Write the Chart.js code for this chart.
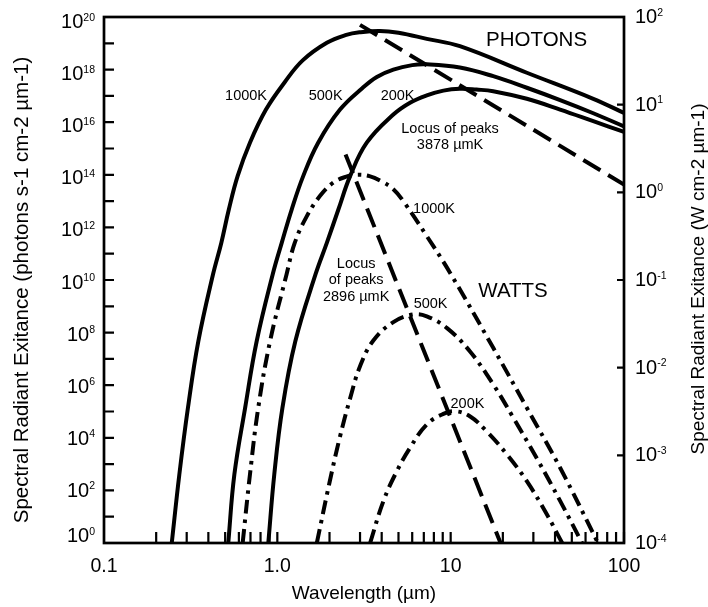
<!DOCTYPE html>
<html>
<head>
<meta charset="utf-8">
<script src="https://cdn.jsdelivr.net/npm/chart.js@4"></script>
<style>
  html, body { margin: 0; padding: 0; background: #fff; }
  canvas { display: block; }
</style>
</head>
<body>
<canvas id="chart" width="708" height="607"></canvas>
<script>
// [wavelength in µm, log10 of exitance read on the left axis]
const photons1000 = [[0.246, 0], [0.272, 2.6], [0.305, 5.14], [0.35, 7.67], [0.425, 10.2], [0.475, 11.41], [0.525, 12.68], [0.59, 13.95], [0.695, 15.22], [0.86, 16.48], [1.1, 17.51], [1.4, 18.35], [1.93, 19.02], [2.5, 19.32], [3.0, 19.42], [3.9, 19.47], [5.0, 19.4], [7.28, 19.17], [11.3, 18.89], [27.5, 17.88], [66.5, 16.89], [100, 16.35]];
const photons500 = [[0.521, 0], [0.565, 2.6], [0.652, 5.14], [0.76, 7.67], [0.94, 10.21], [1.06, 11.41], [1.21, 12.68], [1.41, 13.95], [1.72, 15.22], [2.3, 16.48], [3.1, 17.3], [3.75, 17.72], [4.67, 18.0], [6.0, 18.17], [7.28, 18.2], [11.3, 18.08], [17.6, 17.75], [27.5, 17.31], [42.8, 16.84], [66.5, 16.34], [100, 15.84]];
const photons200 = [[0.887, 0], [0.96, 2.6], [1.07, 5.14], [1.27, 7.67], [1.66, 10.21], [1.93, 11.41], [2.25, 12.68], [2.63, 13.95], [3.28, 15.22], [4.67, 16.29], [5.83, 16.74], [7.28, 17.02], [9.08, 17.2], [11.3, 17.27], [14.1, 17.24], [17.6, 17.18], [27.5, 16.89], [42.8, 16.48], [66.5, 16.04], [100, 15.63]];
const photonPeaks = [[3.0, 19.7], [100, 13.63]];

const watts1000 = [[0.631, 0], [0.695, 2.6], [0.776, 5.14], [0.908, 7.67], [1.13, 10.21], [1.26, 11.41], [1.48, 12.43], [1.76, 13.19], [2.1, 13.7], [2.5, 13.93], [2.85, 14.0], [3.4, 13.95], [4.0, 13.75], [4.67, 13.45], [5.33, 13.0], [7.28, 11.67], [9.93, 10.27], [17.6, 7.42], [27.5, 5.14], [42.8, 2.86], [70.8, 0]];
const watts500 = [[1.69, 0], [2.0, 2.3], [2.29, 4.0], [2.63, 5.5], [3.0, 6.72], [3.58, 7.7], [4.67, 8.4], [6.1, 8.69], [7.28, 8.62], [9.49, 8.18], [12.9, 7.29], [17.6, 6.03], [23, 4.76], [31.4, 3.22], [42.8, 1.6], [57.3, 0]];
const watts200 = [[3.43, 0], [4.09, 1.59], [4.89, 2.73], [5.83, 3.62], [7.28, 4.51], [9.08, 4.91], [10.6, 5.01], [12.9, 4.82], [16.1, 4.25], [21.1, 3.37], [27.5, 2.35], [35.8, 1.1], [44, 0]];
const wattPeaks = [[2.475, 14.77], [19.4, 0]];

const xTickValues = [0.1, 1, 10, 100];
const xTickLabels = ['0.1', '1.0', '10', '100'];
const leftTickExps = [0, 2, 4, 6, 8, 10, 12, 14, 16, 18, 20];
const rightTickExps = [-4, -3, -2, -1, 0, 1, 2];

// [text, wavelength, log10 exitance of the baseline, font size]
const notes = [
  ['PHOTONS', 31.3, 18.89, 20.5],
  ['WATTS', 22.9, 9.37, 20.5],
  ['1000K', 0.66, 16.86, 14.5],
  ['500K', 1.9, 16.86, 14.5],
  ['200K', 4.94, 16.86, 14.5],
  ['Locus of peaks', 9.92, 15.6, 14.5],
  ['3878 µmK', 9.92, 15.0, 14.5],
  ['1000K', 8.02, 12.55, 14.5],
  ['Locus', 2.85, 10.47, 14.5],
  ['of peaks', 2.85, 9.83, 14.5],
  ['2896 µmK', 2.85, 9.2, 14.5],
  ['500K', 7.66, 8.95, 14.5],
  ['200K', 12.5, 5.15, 14.5]
];

const FONT = '"Liberation Sans", Arial, Helvetica, sans-serif';
const SOLID = [];
const DASHED = [20, 9];
const DASH_DOT = [14, 6, 3.5, 6];

function serie(pontos, dash) {
  return {
    data: pontos.map(([l, e]) => ({ x: l, y: Math.pow(10, e) })),
    borderColor: '#000',
    borderWidth: 4,
    borderDash: dash,
    borderJoinStyle: 'round',
    tension: 0.4,
    pointRadius: 0,
    fill: false
  };
}

function potencia(ctx, exp, x, base, alinhar) {
  ctx.font = '20px ' + FONT;
  const wb = ctx.measureText('10').width;
  ctx.font = '10.5px ' + FONT;
  const ws = ctx.measureText(String(exp)).width;
  const left = alinhar === 'right' ? x - wb - ws : x;
  ctx.textAlign = 'left';
  ctx.textBaseline = 'alphabetic';
  ctx.font = '20px ' + FONT;
  ctx.fillText('10', left, base);
  ctx.font = '10.5px ' + FONT;
  ctx.fillText(String(exp), left + wb, base - 7.5);
}

const moldura = {
  id: 'moldura',
  afterDatasetsDraw(chart) {
    const { ctx, chartArea: a, scales } = chart;
    const x = scales.x, y = scales.y, y2 = scales.y2;
    ctx.save();
    ctx.fillStyle = '#000';
    ctx.strokeStyle = '#000';
    ctx.setLineDash([]);

    // inward ticks
    ctx.lineWidth = 2.2;
    ctx.beginPath();
    [0.1, 1, 10].forEach(d => {
      for (let m = 2; m <= 10; m++) {
        const px = x.getPixelForValue(m * d);
        ctx.moveTo(px, a.bottom);
        ctx.lineTo(px, a.bottom - 11);
      }
    });
    for (let e = 1; e < 20; e++) {
      const py = y.getPixelForValue(Math.pow(10, e));
      ctx.moveTo(a.left, py);
      ctx.lineTo(a.left + 10, py);
    }
    for (let e = -3; e < 2; e++) {
      const py = y2.getPixelForValue(Math.pow(10, e));
      ctx.moveTo(a.right, py);
      ctx.lineTo(a.right - 7, py);
    }
    ctx.stroke();

    ctx.lineWidth = 2.7;
    ctx.strokeRect(a.left, a.top, a.right - a.left, a.bottom - a.top);

    // tick labels
    ctx.font = '19.5px ' + FONT;
    ctx.textAlign = 'center';
    ctx.textBaseline = 'alphabetic';
    xTickValues.forEach((v, i) => {
      ctx.fillText(xTickLabels[i], x.getPixelForValue(v), a.bottom + 29);
    });
    leftTickExps.forEach(e => {
      const py = y.getPixelForValue(Math.pow(10, e));
      potencia(ctx, e, a.left - 9, py + (e === 0 ? -1 : 6 + e / 4), 'right');
    });
    rightTickExps.forEach(e => {
      const py = y2.getPixelForValue(Math.pow(10, e));
      potencia(ctx, e, a.right + 11, py + 6, 'left');
    });

    // axis titles
    ctx.font = '19px ' + FONT;
    ctx.textAlign = 'center';
    ctx.fillText('Wavelength (µm)', (a.left + a.right) / 2, a.bottom + 56);

    ctx.save();
    ctx.translate(a.left - 76, (a.top + a.bottom) / 2 + 10);
    ctx.rotate(-Math.PI / 2);
    ctx.font = '20.5px ' + FONT;
    ctx.fillText('Spectral Radiant Exitance (photons s-1 cm-2 µm-1)', 0, 0);
    ctx.restore();

    ctx.save();
    ctx.translate(a.right + 80, (a.top + a.bottom) / 2 - 1);
    ctx.rotate(-Math.PI / 2);
    ctx.font = '19px ' + FONT;
    ctx.fillText('Spectral Radiant Exitance (W cm-2 µm-1)', 0, 0);
    ctx.restore();

    // curve notes
    notes.forEach(([texto, l, e, tam]) => {
      ctx.font = tam + 'px ' + FONT;
      ctx.fillText(texto, x.getPixelForValue(l), y.getPixelForValue(Math.pow(10, e)));
    });
    ctx.restore();
  }
};

new Chart(document.getElementById('chart'), {
  type: 'line',
  data: {
    datasets: [
      serie(photons1000, SOLID),
      serie(photons500, SOLID),
      serie(photons200, SOLID),
      serie(photonPeaks, DASHED),
      serie(watts1000, DASH_DOT),
      serie(watts500, DASH_DOT),
      serie(watts200, DASH_DOT),
      serie(wattPeaks, DASHED)
    ]
  },
  options: {
    responsive: false,
    animation: false,
    layout: { padding: { left: 104, right: 84, top: 17, bottom: 64 } },
    plugins: { legend: { display: false }, tooltip: { enabled: false } },
    scales: {
      x: { type: 'logarithmic', min: 0.1, max: 100, display: false },
      y: { type: 'logarithmic', min: 1, max: 1e20, display: false },
      y2: { type: 'logarithmic', position: 'right', min: 1e-4, max: 100, display: false }
    }
  },
  plugins: [moldura]
});
</script>
</body>
</html>
